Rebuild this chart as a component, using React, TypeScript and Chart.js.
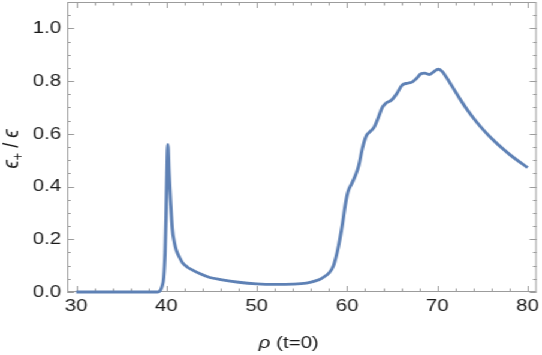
import React, { useEffect, useRef } from "react";
import { Chart, registerables } from "chart.js";

Chart.register(...registerables);

// ---- data ----
const rho: number[] = [
  30, 35, 39.0, 39.3, 39.5, 39.7, 39.85, 39.95, 40.05, 40.15,
  40.3, 40.45, 40.65, 40.9, 41.1, 41.5, 41.8, 42.3, 42.9, 43.8,
  44.8, 46, 48, 50, 52, 54, 55.5, 56.5, 57.2, 58,
  58.5, 58.9, 59.2, 59.5, 59.8, 60.1, 60.5, 60.9, 61.3, 61.7,
  62.1, 62.6, 63.0, 63.5, 63.9, 64.3, 64.9, 65.5, 66.1, 66.7,
  67.2, 67.7, 68.2, 68.6, 69.1, 69.6, 70.1, 70.5, 71.0, 71.7,
  72.5, 73.3, 74.0, 74.8, 75.6, 76.4, 77.2, 78.0, 78.8, 80.0,
];
const ratio: number[] = [
  0, 0, 0, 0.005, 0.02, 0.055, 0.15, 0.28, 0.45, 0.56,
  0.45, 0.35, 0.24, 0.185, 0.158, 0.128, 0.11, 0.095, 0.083, 0.068,
  0.055, 0.047, 0.037, 0.031, 0.029, 0.03, 0.034, 0.042, 0.052, 0.072,
  0.1, 0.15, 0.2, 0.26, 0.33, 0.38, 0.41, 0.44, 0.48, 0.545,
  0.59, 0.61, 0.625, 0.665, 0.7, 0.716, 0.727, 0.752, 0.785, 0.792,
  0.796, 0.81, 0.828, 0.83, 0.825, 0.835, 0.845, 0.838, 0.815, 0.777,
  0.733, 0.692, 0.66, 0.627, 0.597, 0.57, 0.545, 0.522, 0.501, 0.472,
];
const xTicks: number[] = [30, 40, 50, 60, 70, 80];
const yTicks: number[] = [0, 0.2, 0.4, 0.6, 0.8, 1.0];
const xMinorTicks: number[] = [
  30, 32, 34, 36, 38, 40, 42, 44, 46, 48, 50, 52, 54, 56, 58,
  60, 62, 64, 66, 68, 70, 72, 74, 76, 78, 80,
];
const yMinorTicks: number[] = [
  0, 0.05, 0.1, 0.15, 0.2, 0.25, 0.3, 0.35, 0.4, 0.45, 0.5, 0.55,
  0.6, 0.65, 0.7, 0.75, 0.8, 0.85, 0.9, 0.95, 1.0, 1.05,
];
const xRange: [number, number] = [29, 81];
const yRange: [number, number] = [0, 1.1];

// ---- layout ----
const OUT_W = 542;
const OUT_H = 355;
const STRETCH = 1.2;
const W = Math.round(OUT_W / STRETCH);
const SX = OUT_W / W;
const FONT = '"Liberation Sans", Arial, sans-serif';
const FRAME = "#9c9c9c";
const LINE = "rgb(94,129,181)";
const TEXT = "#1a1a1a";

const framePlugin = {
  id: "frameTicks",
  beforeDatasetsDraw(chart: any) {
    const { ctx, chartArea: a, scales } = chart;
    const xs = scales.x;
    const ys = scales.y;
    ctx.save();
    ctx.strokeStyle = FRAME;
    ctx.lineWidth = 1;
    ctx.strokeRect(a.left + 0.5, a.top + 0.5, a.right - a.left - 1, a.bottom - a.top - 1);
    ctx.beginPath();
    for (const v of xMinorTicks) {
      const px = Math.round(xs.getPixelForValue(v)) + 0.5;
      const len = xTicks.includes(v) ? 6 : 3.5;
      ctx.moveTo(px, a.bottom);
      ctx.lineTo(px, a.bottom - len);
      ctx.moveTo(px, a.top);
      ctx.lineTo(px, a.top + len);
    }
    for (const v of yMinorTicks) {
      const py = Math.round(ys.getPixelForValue(v)) + 0.5;
      const major = yTicks.some((t) => Math.abs(t - v) < 1e-9);
      const len = major ? 5.8 : 3;
      ctx.moveTo(a.left, py);
      ctx.lineTo(a.left + len, py);
      ctx.moveTo(a.right, py);
      ctx.lineTo(a.right - len, py);
    }
    ctx.stroke();
    ctx.restore();
  },
  afterDraw(chart: any) {
    const { ctx } = chart;
    ctx.save();
    ctx.fillStyle = TEXT;
    // x title: "ρ (t=0)"
    const fi = `italic 17px ${FONT}`;
    const fr = `17px ${FONT}`;
    ctx.font = fi;
    const w1 = ctx.measureText("ρ").width;
    ctx.font = fr;
    const w2 = ctx.measureText(" (t=0)").width;
    const cx = 240.8;
    const x0 = cx - (w1 + w2) / 2;
    ctx.textBaseline = "alphabetic";
    ctx.textAlign = "left";
    ctx.font = fi;
    ctx.fillText("ρ", x0, 348);
    ctx.font = fr;
    ctx.fillText(" (t=0)", x0 + w1, 348);

    // y title: "ϵ₊ / ϵ"
    ctx.translate(15, 149);
    ctx.rotate(-Math.PI / 2);
    const fy = `italic 19px ${FONT}`;
    const fyr = `18px ${FONT}`;
    const fs = `12.5px ${FONT}`;
    ctx.font = fy;
    const e = ctx.measureText("ϵ").width;
    ctx.font = fs;
    const p = ctx.measureText("+").width;
    ctx.font = fyr;
    const s = ctx.measureText(" / ").width;
    const total = e + p + s + e;
    let x = -total / 2;
    ctx.font = fy;
    ctx.fillText("ϵ", x, 0);
    x += e;
    ctx.font = fs;
    ctx.fillText("+", x, 4);
    x += p;
    ctx.font = fyr;
    ctx.fillText(" / ", x, 0);
    x += s;
    ctx.font = fy;
    ctx.fillText("ϵ", x, 0);
    ctx.restore();
  },
};

export default function App() {
  const ref = useRef<HTMLCanvasElement | null>(null);
  useEffect(() => {
    if (!ref.current) return;
    const points = rho.map((r, i) => ({ x: r, y: ratio[i] }));
    const chart = new Chart(ref.current, {
      type: "line",
      data: {
        datasets: [
          {
            data: points,
            borderColor: LINE,
            borderWidth: 2.8,
            pointRadius: 0,
            fill: false,
            cubicInterpolationMode: "monotone",
            clip: 5,
          } as any,
        ],
      },
      options: {
        animation: false,
        responsive: false,
        maintainAspectRatio: false,
        layout: { padding: { top: 2, right: W - 447.5, left: 0, bottom: 0 } },
        plugins: { legend: { display: false }, tooltip: { enabled: false } },
        scales: {
          x: {
            type: "linear",
            min: xRange[0],
            max: xRange[1],
            grid: { display: false, drawTicks: false },
            border: { display: false },
            afterBuildTicks: (sc: any) => {
              sc.ticks = xTicks.map((v) => ({ value: v }));
            },
            afterFit: (sc: any) => {
              sc.height = OUT_H - 292;
              sc.paddingLeft = 0;
              sc.paddingRight = 0;
            },
            ticks: {
              padding: 4,
              maxRotation: 0,
              autoSkip: false,
              color: TEXT,
              font: { family: FONT, size: 17 },
              callback: (v: any) => String(Math.round(Number(v))),
            },
          },
          y: {
            type: "linear",
            min: yRange[0],
            max: yRange[1],
            grid: { display: false, drawTicks: false },
            border: { display: false },
            afterBuildTicks: (sc: any) => {
              sc.ticks = yTicks.map((v) => ({ value: v }));
            },
            afterFit: (sc: any) => {
              sc.width = 56;
              sc.paddingTop = 0;
              sc.paddingBottom = 0;
            },
            ticks: {
              padding: 5,
              autoSkip: false,
              color: TEXT,
              font: { family: FONT, size: 17 },
              callback: (v: any) => Number(v).toFixed(1),
            },
          },
        },
      },
      plugins: [framePlugin],
    });
    return () => chart.destroy();
  }, []);

  return (
    <div
      style={{
        position: "fixed",
        left: 0,
        top: 0,
        width: W,
        height: OUT_H,
        transform: `scale(${SX}, 1)`,
        transformOrigin: "0 0",
        background: "#fff",
      }}
    >
      <canvas ref={ref} width={W} height={OUT_H} style={{ display: "block" }} />
    </div>
  );
}
